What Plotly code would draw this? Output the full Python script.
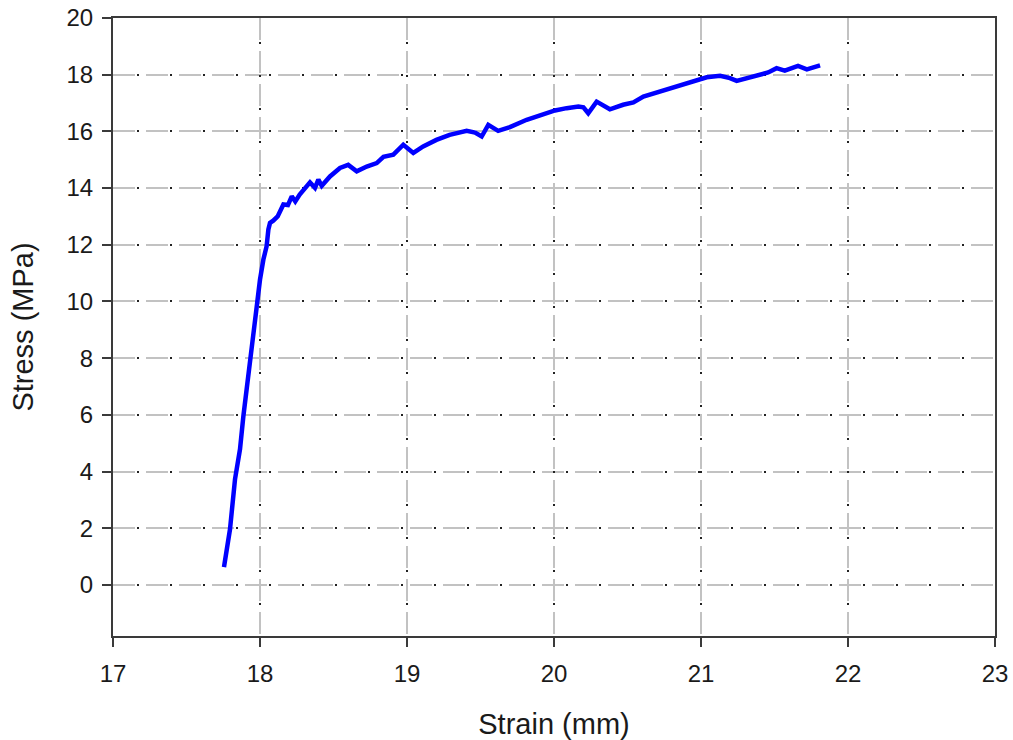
import plotly.graph_objects as go

# Tensile test record: strain (mm) vs stress (MPa)
strain = [17.755, 17.796, 17.83, 17.864, 17.887, 17.909, 17.932, 17.955, 17.977, 18.0,
          18.023, 18.045, 18.057, 18.068, 18.09, 18.12, 18.159, 18.19, 18.216, 18.24,
          18.27, 18.294, 18.34, 18.374, 18.397, 18.42, 18.476, 18.544, 18.60, 18.658,
          18.726, 18.794, 18.84, 18.907, 18.975, 19.043, 19.11, 19.20, 19.29, 19.406,
          19.463, 19.508, 19.553, 19.62, 19.70, 19.814, 19.927, 20.007, 20.086, 20.166,
          20.2, 20.233, 20.29, 20.38, 20.47, 20.54, 20.608, 20.72, 20.835, 20.948,
          21.039, 21.13, 21.197, 21.243, 21.31, 21.40, 21.457, 21.514, 21.57, 21.66,
          21.72, 21.81]
stress = [0.63, 1.97, 3.73, 4.79, 5.96, 6.90, 8.07, 9.01, 9.72, 10.77,
          11.48, 11.95, 12.54, 12.77, 12.85, 13.0, 13.42, 13.4, 13.71, 13.53,
          13.77, 13.94, 14.2, 14.01, 14.3, 14.08, 14.41, 14.71, 14.82, 14.59,
          14.76, 14.88, 15.1, 15.18, 15.53, 15.24, 15.47, 15.7, 15.88, 16.02,
          15.96, 15.82, 16.23, 16.02, 16.15, 16.41, 16.62, 16.74, 16.82, 16.88,
          16.85, 16.64, 17.05, 16.78, 16.94, 17.02, 17.23, 17.4, 17.61, 17.76,
          17.91, 17.96, 17.88, 17.78, 17.88, 18.0, 18.08, 18.23, 18.14, 18.31,
          18.19, 18.33]

x_ticks = [17, 18, 19, 20, 21, 22, 23]
y_ticks = [0, 2, 4, 6, 8, 10, 12, 14, 16, 18, 20]
x_range = [17, 23]
y_range = [-1.8, 20]

FONT = "Liberation Sans, Arial, sans-serif"
AXIS_COLOR = "#3a3a3a"

fig = go.Figure()

# invisible trace carrying the overlay axes (black dots of the dash-dot grid)
fig.add_trace(go.Scatter(x=[], y=[], xaxis="x2", yaxis="y2",
                         showlegend=False, hoverinfo="skip"))

fig.add_trace(go.Scatter(
    x=strain, y=stress, mode="lines",
    line=dict(color="#0000ff", width=4.5),
    showlegend=False,
))

common = dict(
    showline=True, linecolor=AXIS_COLOR, linewidth=2, mirror=True,
    ticks="outside", ticklen=9, tickwidth=2, tickcolor=AXIS_COLOR,
    showgrid=True, gridcolor="#c2c2c2", gridwidth=1.7,
    griddash="22px,11px", zeroline=False, automargin=False,
    tickfont=dict(family=FONT, size=24, color="#1a1a1a"),
)

overlay = dict(
    showgrid=True, gridcolor="#222222", gridwidth=1.5,
    griddash="0px,24px,1.5px,7.5px", automargin=False,
    showticklabels=False, ticks="", showline=False, zeroline=False,
)

fig.update_layout(
    width=1013, height=740,
    margin=dict(l=113, r=18, t=18, b=104),
    paper_bgcolor="white", plot_bgcolor="white",
    xaxis=dict(common, range=x_range, tickvals=x_ticks,
               ticklabelstandoff=6,
               title=dict(text="Strain (mm)", standoff=28,
                          font=dict(family=FONT, size=29, color="#1a1a1a"))),
    yaxis=dict(common, range=y_range, tickvals=y_ticks,
               ticklabelstandoff=4,
               title=dict(text="Stress (MPa)", standoff=24,
                          font=dict(family=FONT, size=29, color="#1a1a1a"))),
    xaxis2=dict(overlay, overlaying="x", range=x_range, tickvals=x_ticks),
    yaxis2=dict(overlay, overlaying="y", range=y_range, tickvals=y_ticks),
)

fig.write_html("out.html")
